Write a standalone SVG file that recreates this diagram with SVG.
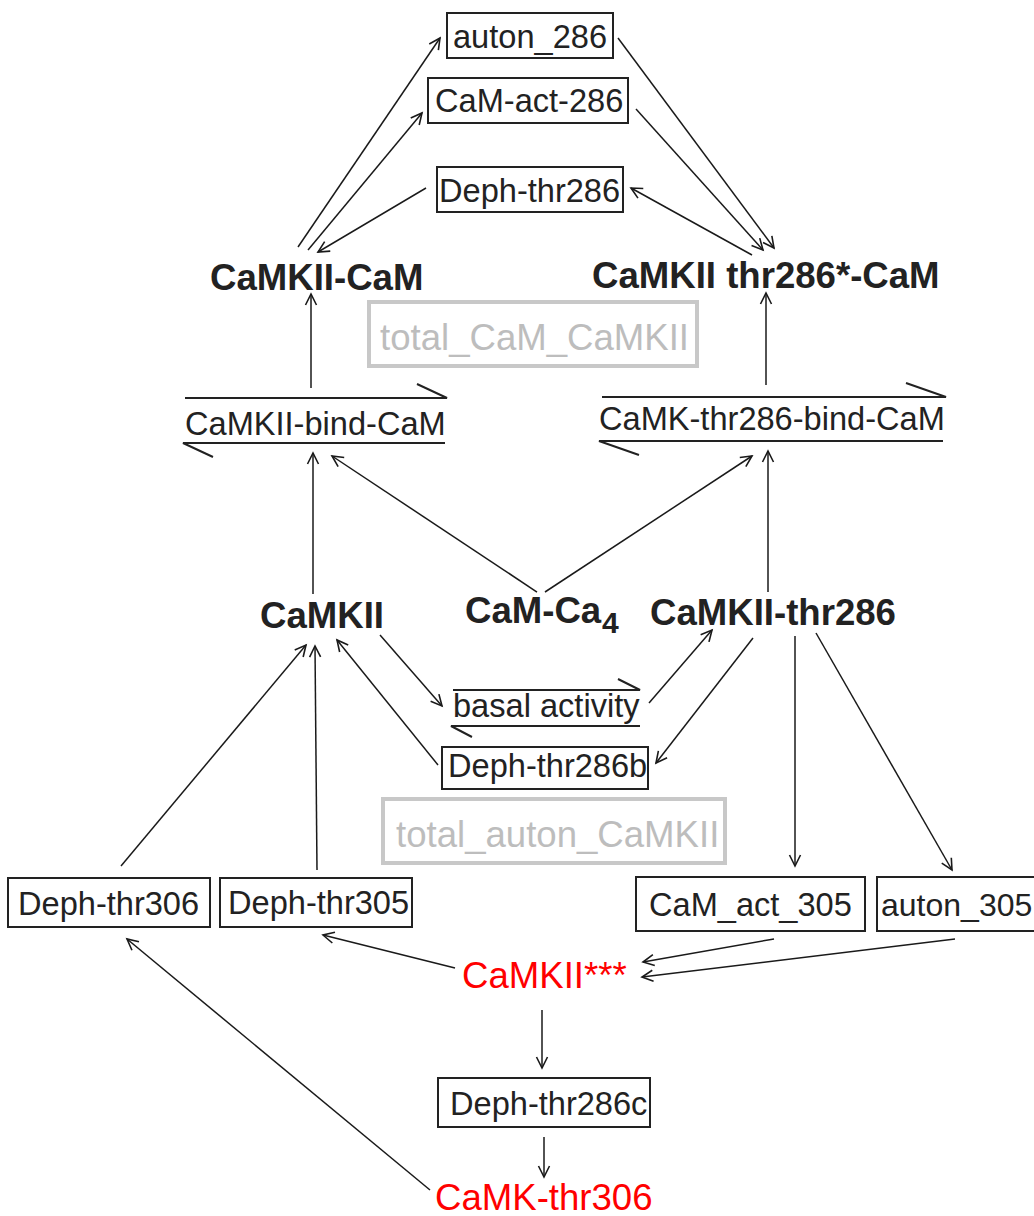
<svg xmlns="http://www.w3.org/2000/svg" width="1034" height="1216" viewBox="0 0 1034 1216">
<defs>
<marker id="ah" markerUnits="userSpaceOnUse" markerWidth="16" markerHeight="16" viewBox="-13 -8 16 16" refX="0" refY="0" orient="auto">
<path d="M-11,-5.5 L0,0 L-11,5.5" fill="none" stroke="#1a1a1a" stroke-width="1.6"/>
</marker>
<style>
text{font-family:"Liberation Sans",Arial,sans-serif;fill:#222}
.b{font-weight:bold;font-size:36.6px}
.r{font-size:32.6px}
.red{font-size:36.6px;fill:#ff0000}
.gt{font-size:36.6px;fill:#bdbdbd}
.box{fill:none;stroke:#222;stroke-width:2}
.gbox{fill:none;stroke:#c8c8c8;stroke-width:4}
.hp{fill:none;stroke:#222;stroke-width:2}
.c line{stroke:#1a1a1a;stroke-width:1.5;marker-end:url(#ah)}
</style>
</defs>
<rect width="1034" height="1216" fill="#fff"/>

<g id="auton_286"><rect class="box" x="447" y="13" width="166" height="45"/><text class="r" x="453" y="48">auton_286</text></g>
<g id="CaM-act-286"><rect class="box" x="428" y="78" width="200" height="45"/><text class="r" x="435" y="112">CaM-act-286</text></g>
<g id="Deph-thr286"><rect class="box" x="437" y="167" width="186" height="45"/><text class="r" x="439" y="202">Deph-thr286</text></g>
<g id="CaMKII-CaM"><text class="b" x="210" y="290">CaMKII-CaM</text></g>
<g id="CaMKII_thr286-CaM"><text class="b" x="592" y="288">CaMKII thr286*-CaM</text></g>
<g id="total_CaM_CaMKII"><rect class="gbox" x="369" y="302" width="328" height="64"/><text class="gt" x="380" y="350">total_CaM_CaMKII</text></g>
<g id="CaMKII-bind-CaM"><path class="hp" d="M185,398 H447 L417,384 M445,443 H183 L213,457"/><text class="r" x="185" y="435">CaMKII-bind-CaM</text></g>
<g id="CaMK-thr286-bind-CaM"><path class="hp" d="M602,397 H946 L906,383 M943,441 H599 L639,455"/><text class="r" x="599" y="430">CaMK-thr286-bind-CaM</text></g>
<g id="CaMKII"><text class="b" x="260" y="628">CaMKII</text></g>
<g id="CaM-Ca4"><text class="b" x="465" y="623">CaM-Ca</text><text class="b" x="602" y="633" style="font-size:30px">4</text></g>
<g id="CaMKII-thr286"><text class="b" x="650" y="625">CaMKII-thr286</text></g>
<g id="basal_activity"><path class="hp" d="M453,690 H640 L618,679 M640,726 H451 L472,737"/><text class="r" x="453" y="717">basal activity</text></g>
<g id="Deph-thr286b"><rect class="box" x="442" y="747" width="206" height="42"/><text class="r" x="448" y="777">Deph-thr286b</text></g>
<g id="total_auton_CaMKII"><rect class="gbox" x="383" y="799" width="342" height="64"/><text class="gt" x="396" y="847">total_auton_CaMKII</text></g>
<g id="Deph-thr306"><rect class="box" x="8" y="878" width="202" height="49"/><text class="r" x="18" y="915">Deph-thr306</text></g>
<g id="Deph-thr305"><rect class="box" x="220" y="878" width="192" height="49"/><text class="r" x="228" y="914">Deph-thr305</text></g>
<g id="CaM_act_305"><rect class="box" x="636" y="877" width="229" height="54"/><text class="r" x="649" y="916">CaM_act_305</text></g>
<g id="auton_305"><rect class="box" x="877" y="877" width="170" height="54"/><text x="881" y="916" style="font-size:32px">auton_305</text></g>
<g id="CaMKII_star"><text class="red" x="462" y="988">CaMKII***</text></g>
<g id="Deph-thr286c"><rect class="box" x="438" y="1078" width="212" height="49"/><text class="r" x="450" y="1115">Deph-thr286c</text></g>
<g id="CaMK-thr306"><text class="red" x="435" y="1210">CaMK-thr306</text></g>

<g id="connectors" class="c">
<line x1="298" y1="247" x2="440" y2="38"/>
<line x1="308" y1="250" x2="422" y2="113"/>
<line x1="426" y1="188" x2="318" y2="252"/>
<line x1="618" y1="38" x2="774" y2="248"/>
<line x1="636" y1="109" x2="763" y2="250"/>
<line x1="752" y1="255" x2="631" y2="188"/>
<line x1="311" y1="388" x2="311" y2="294"/>
<line x1="766" y1="385" x2="766" y2="293"/>
<line x1="313" y1="594" x2="313" y2="453"/>
<line x1="537" y1="592" x2="332" y2="456"/>
<line x1="545" y1="592" x2="752" y2="456"/>
<line x1="768" y1="592" x2="768" y2="451"/>
<line x1="380" y1="635" x2="442" y2="706"/>
<line x1="649" y1="703" x2="712" y2="630"/>
<line x1="753" y1="638" x2="656" y2="763"/>
<line x1="438" y1="765" x2="337" y2="640"/>
<line x1="795" y1="636" x2="795" y2="866"/>
<line x1="816" y1="633" x2="952" y2="870"/>
<line x1="121" y1="866" x2="306" y2="645"/>
<line x1="317" y1="870" x2="315" y2="646"/>
<line x1="455" y1="968" x2="323" y2="935"/>
<line x1="430" y1="1190" x2="127" y2="939"/>
<line x1="774" y1="939" x2="643" y2="962"/>
<line x1="955" y1="939" x2="642" y2="977"/>
<line x1="542" y1="1010" x2="542" y2="1068"/>
<line x1="544" y1="1137" x2="544" y2="1177"/>
</g>
</svg>
